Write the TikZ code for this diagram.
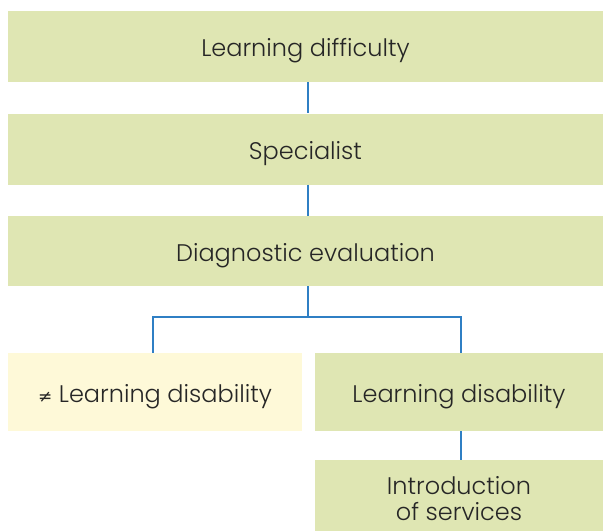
\documentclass[tikz,border=0pt]{standalone}
\usepackage{fontspec}
\setmainfont{Poppins}[UprightFont=* Light]
\newfontfamily\symfont{DejaVu Sans}
\definecolor{boxgreen}{HTML}{DFE6B3}
\definecolor{boxyellow}{HTML}{FEF9D8}
\definecolor{linkblue}{HTML}{2F7FC4}
\tikzset{
  stepbox/.style={fill=boxgreen, draw=none, inner sep=0pt, font=\fontsize{24}{26}\selectfont, text=black!85, align=center, text height=20pt, text depth=0pt},
  altbox/.style={stepbox, fill=boxyellow},
  link/.style={draw=linkblue, line width=1.4pt}
}
\begin{document}
\begin{tikzpicture}[x=1pt,y=-1pt]
\useasboundingbox (0,0) rectangle (603,531);
\node[stepbox, minimum width=595pt, minimum height=71pt] (a) at (305.5,46.5) {Learning difficulty};
\node[stepbox, minimum width=595pt, minimum height=71pt] (b) at (305.5,149) {Specialist};
\node[stepbox, minimum width=595pt, minimum height=70pt] (c) at (305.5,251) {Diagnostic evaluation};
\node[altbox, minimum width=294pt, minimum height=78pt] (d) at (155,392) {{\symfont\fontsize{17}{20}\selectfont ≠} Learning disability};
\node[stepbox, minimum width=288pt, minimum height=71pt, text height=49pt, text depth=0pt] (f) at (459,495.5) {Introduction\\of services};
\node[stepbox, minimum width=288pt, minimum height=78pt] (e) at (459,392) {Learning disability};
\coordinate (j) at (308,317);
\draw[link] (a.south -| j) -- (b.north -| j);
\draw[link] (b.south -| j) -- (c.north -| j);
\draw[link] (c.south -| j) -- (j) -| (153,353);
\draw[link] (j) -| (461,353);
\draw[link] (e.south -| 461,0) -- (f.north -| 461,0);
\end{tikzpicture}
\end{document}
